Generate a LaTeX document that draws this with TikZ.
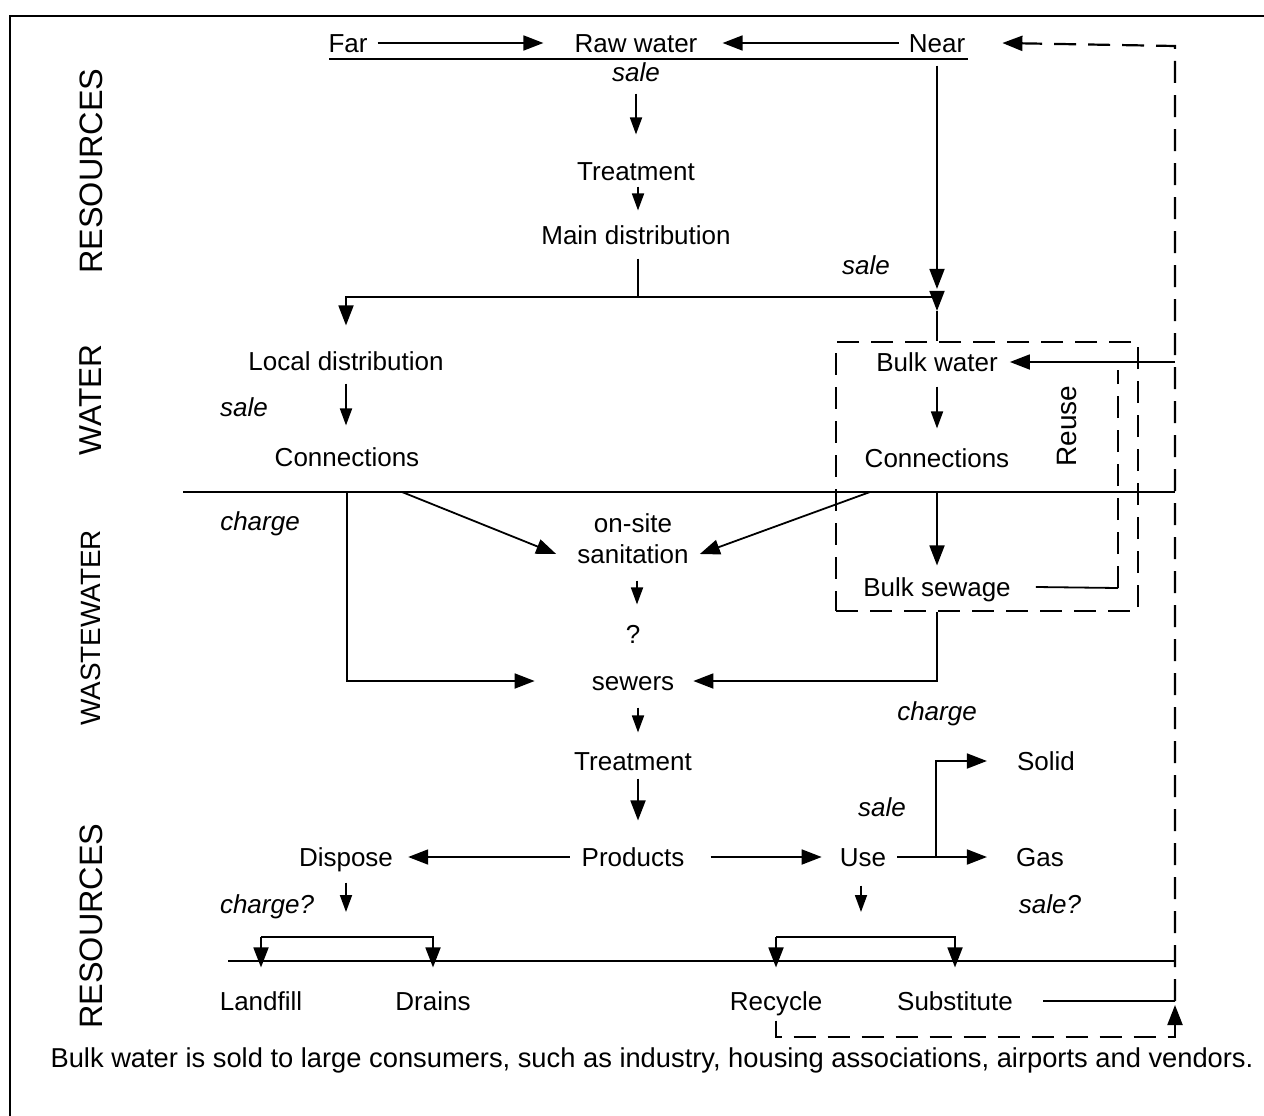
\documentclass[tikz,border=0pt]{standalone}
\usepackage{fontspec}
\setmainfont{Liberation Sans}
\usetikzlibrary{arrows.meta}
\begin{document}
\begin{tikzpicture}[x=1pt,y=-1pt,
 lbl/.style={font=\fontsize{26}{30}\selectfont, inner sep=0pt, text height=18.7pt, text depth=0pt},
 itl/.style={lbl, font=\fontsize{26}{30}\selectfont\itshape},
 side/.style={font=\fontsize{#1}{34}\selectfont, rotate=90, inner sep=0pt},
 conn/.style={line width=1.8pt},
 arr/.style={conn,-{Triangle[length=20pt,width=15pt]}},
 sarr/.style={conn,-{Triangle[length=17pt,width=12pt]}},
 dsh/.style={line width=2.2pt, dash pattern=on 22pt off 12pt},
]
\useasboundingbox (0,0) rectangle (1264,1116);
\draw[line width=1.5pt] (10,1116) -- (10,16) -- (1264,16);

% side labels
\node[side=32.4] (s1) at (91,171) {RESOURCES};
\node[side=31.7] (s2) at (91,400) {WATER};
\node[side=27.9] (s3) at (91,628) {WASTEWATER};
\node[side=32.4] (s4) at (91,926) {RESOURCES};

% coordinates of free line ends
\coordinate (ul1) at (329,59);
\coordinate (ul2) at (968,59);
\coordinate (split) at (638,297);
\coordinate (sepL) at (183,492);
\coordinate (sepR) at (1175,492);
\coordinate (botL) at (228,961);
\coordinate (botR) at (1175,961);
\coordinate (rtop) at (1175,46);
\coordinate (rsub) at (1175,1001);
\coordinate (rbot) at (1175,1037);
\coordinate (ru1) at (1118,588);
\coordinate (ru2) at (1118,370);
\coordinate (brl) at (262,937);
\coordinate (brr) at (776,937);

% top
\node[lbl] (far) at (348,43) {Far};
\node[lbl] (raw) at (636,43) {Raw water};
\node[lbl] (near) at (937,43) {Near};
\draw[conn] (ul1) -- (ul2);
\draw[arr] ([xshift=10]far.east) -- ([xshift=-31]raw.west);
\draw[arr] ([xshift=-10]near.west) -- ([xshift=25]raw.east);
\node[itl] (sale1) at (636,72) {sale};
\node[lbl] (treat1) at (636,171) {Treatment};
\node[lbl] (main) at (636,235) {Main distribution};
\draw[sarr] ([yshift=-12]sale1.south) -- ([yshift=27]sale1.south |- treat1.north);
\draw[sarr] ([xshift=2,yshift=-6]treat1.south) -- ([xshift=2,yshift=15]treat1.south |- main.north);
\draw[conn] ([xshift=2,yshift=-14]main.south) -- (split);

% water
\node[lbl] (locd) at (346,361) {Local distribution};
\node[itl] (sale2) at (866,265) {sale};
\node[draw, dsh, minimum width=302pt, minimum height=269pt, inner sep=0pt] (bulkbox) at (987,476.5) {};
\draw[arr] ([yshift=-13]near.south) -- ([yshift=52]near.south |- bulkbox.north);
\draw[arr] (split) -| ([yshift=26]locd.north);
\draw[arr] (split) -| ([yshift=30]near.south |- bulkbox.north);
\draw[conn] ([yshift=30]near.south |- bulkbox.north) -- (near.south |- bulkbox.north);
\node[itl] (sale3) at (244,407) {sale};
\node[lbl] (conn1) at (347,457) {Connections};
\draw[sarr] ([yshift=-13]locd.south) -- ([yshift=22]locd.south |- conn1.north);
\node[lbl] (bw) at (937,362) {Bulk water};
\node[lbl] (conn2) at (937,458) {Connections};
\node[side=28] (reuse) at (1067,426) {Reuse};
\draw[sarr] ([yshift=-15]bw.south) -- ([yshift=20]conn2.north);
\draw[arr] (rtop |- bw) -- ([xshift=12]bw.east);

% separator
\draw[conn] (sepL) -- (sepR);

% wastewater
\node[itl] (charge1) at (260,521) {charge};
\node[lbl] (os1) at (633,523) {on-site};
\node[lbl] (os2) at (633,554) {sanitation};
\node[lbl] (q) at (633,634) {?};
\node[lbl] (sewers) at (633,681) {sewers};
\node[lbl] (bs) at (937,587) {Bulk sewage};
\node[itl] (charge2) at (937,711) {charge};
\draw[arr] (conn1.south |- sepL) |- ([xshift=-57]sewers.west);
\draw[arr] ([xshift=55]conn1.south |- sepL) -- ([xshift=-21]os2.west);
\draw[arr] ([xshift=-67]conn2.south |- sepL) -- ([xshift=11]os2.east);
\draw[sarr] ([xshift=4,yshift=-17]os2.south) -- ([xshift=4,yshift=20]q.north);
\draw[arr] (conn2.south |- sepL) -- ([yshift=12]bs.north);
\draw[arr] (bs |- bulkbox.south) |- ([xshift=19]sewers.east);
\draw[conn] ([xshift=25]bs.east) -- (ru1);
\draw[dsh] (ru1) -- (ru2);

% resources bottom
\node[lbl] (treat2) at (633,761) {Treatment};
\node[lbl] (prod) at (633,857) {Products};
\node[lbl] (disp) at (346,857) {Dispose};
\node[lbl] (use) at (863,857) {Use};
\node[lbl] (gas) at (1040,857) {Gas};
\node[lbl] (solid) at (1046,761) {Solid};
\node[itl] (sale4) at (882,807) {sale};
\node[itl] (sale5) at (1050,904) {sale?};
\node[itl] (charge3) at (267,904) {charge?};
\draw[sarr] ([xshift=5,yshift=-17]sewers.south) -- ([xshift=5,yshift=19]treat2.north);
\draw[arr] ([xshift=5,yshift=-8]treat2.south) -- ([xshift=5,yshift=27]prod.north);
\draw[arr] ([xshift=-12]prod.west) -- ([xshift=15]disp.east);
\draw[arr] ([xshift=26]prod.east) -- ([xshift=-18]use.west);
\draw[arr] ([xshift=11]use.east) -- ([xshift=-29]gas.west);
\draw[arr] ([xshift=50]use.east) |- ([xshift=-30]solid.west);

\node[lbl] (landfill) at (261,1001) {Landfill};
\node[lbl] (drains) at (433,1001) {Drains};
\node[lbl] (recycle) at (776,1001) {Recycle};
\node[lbl] (subst) at (955,1001) {Substitute};
\draw[sarr, shorten >=25pt] ([yshift=-16]disp.south) -- (disp.south |- brl);
\draw[sarr, shorten >=25pt] ([xshift=-2,yshift=-19]use.south) -- ([xshift=-2]use.south |- brl);
\draw[conn] (botL) -- (botR);
\draw[arr] (landfill |- brl) -- ([yshift=24]landfill.north);
\draw[arr] (landfill |- brl) -| ([yshift=24]drains.north);
\draw[arr] (recycle |- brr) -- ([yshift=24]recycle.north);
\draw[arr] (recycle |- brr) -| ([yshift=24]subst.north);
\draw[conn] ([xshift=30]subst.east) -- (rsub);

% feedback dashed paths
\draw[dsh, -{Triangle[length=20pt,width=15pt]}] ([yshift=-10]recycle.south) |- (rbot) -- ([yshift=-4]rsub);
\draw[dsh, -{Triangle[length=20pt,width=15pt]}] (rsub) -- (rtop) -- ([xshift=37]near.east);

\node[lbl, font=\fontsize{27.3}{31}\selectfont] (note) at (652,1058) {Bulk water is sold to large consumers, such as industry, housing associations, airports and vendors.};
\end{tikzpicture}
\end{document}
